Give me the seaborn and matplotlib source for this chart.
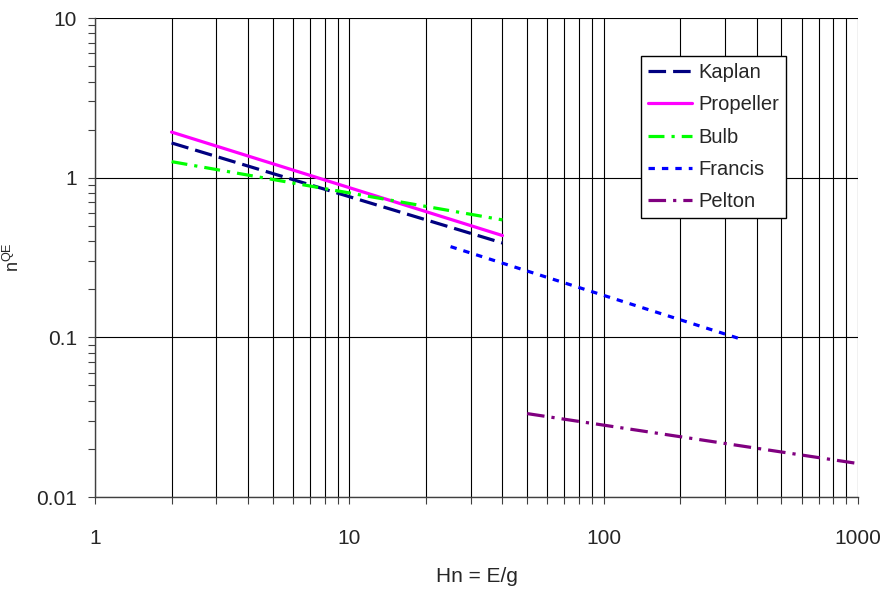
import numpy as np
import pandas as pd
import matplotlib
matplotlib.use("Agg")
import matplotlib.pyplot as plt
from matplotlib.ticker import LogLocator, FixedLocator, FixedFormatter, NullFormatter
import seaborn as sns

# ---- data (endpoints) ----
kaplan_x = [2, 40]
kaplan_y = [1.65, 0.39]
propeller_x = [2, 40]
propeller_y = [1.93, 0.434]
bulb_x = [2, 40]
bulb_y = [1.26, 0.544]
francis_x = [25, 350]
francis_y = [0.37, 0.097]
pelton_x = [50, 1000]
pelton_y = [0.0333, 0.0162]

x_ticks = [1, 10, 100, 1000]
x_tick_labels = ["1", "10", "100", "1000"]
y_ticks = [0.01, 0.1, 1, 10]
y_tick_labels = ["0.01", "0.1", "1", "10"]

sns.set_theme(style="white")
plt.rcParams['font.family'] = ['Liberation Sans', 'DejaVu Sans']
plt.rcParams['mathtext.fontset'] = 'custom'
plt.rcParams['mathtext.rm'] = 'Liberation Sans'

fig = plt.figure(figsize=(8.87, 5.90), dpi=100)
ax = fig.add_axes([95/887, 1 - 497/590, (858-95)/887, (497-18)/590])

series = [
    ("Kaplan", kaplan_x, kaplan_y, "#000080", (0, (5.5, 2.2))),
    ("Propeller", propeller_x, propeller_y, "#FF00FF", "-"),
    ("Bulb", bulb_x, bulb_y, "#00FF00", (0, (5.0, 2.2, 1.0, 2.2))),
    ("Francis", francis_x, francis_y, "#0000FF", (0, (2.0, 2.2))),
    ("Pelton", pelton_x, pelton_y, "#800080", (0, (5.5, 2.2, 1.0, 2.2))),
]

for name, xs, ys, col, ls in series:
    df = pd.DataFrame({"x": xs, "y": ys})
    sns.lineplot(data=df, x="x", y="y", ax=ax, color=col, linestyle=ls,
                 linewidth=2.3, label=name)

ax.set_xscale("log")
ax.set_yscale("log")
ax.set_xlim(1, 1000)
ax.set_ylim(0.01, 10)

ax.xaxis.set_major_locator(FixedLocator(x_ticks))
ax.xaxis.set_major_formatter(FixedFormatter(x_tick_labels))
ax.xaxis.set_minor_locator(LogLocator(base=10, subs=np.arange(2, 10)))
ax.xaxis.set_minor_formatter(NullFormatter())
ax.yaxis.set_major_locator(FixedLocator(y_ticks))
ax.yaxis.set_major_formatter(FixedFormatter(y_tick_labels))
ax.yaxis.set_minor_locator(LogLocator(base=10, subs=np.arange(2, 10)))
ax.yaxis.set_minor_formatter(NullFormatter())

ax.grid(True, which="major", axis="both", color="black", linewidth=0.8)
ax.grid(True, which="minor", axis="x", color="black", linewidth=0.8)
ax.set_axisbelow(True)

for side in ["top", "right"]:
    ax.spines[side].set_visible(False)
for side in ["left", "bottom"]:
    ax.spines[side].set_color("#404040")
    ax.spines[side].set_linewidth(1.0)

ax.tick_params(axis="x", which="both", direction="out", length=5, width=0.8,
               color="#404040", bottom=True, labelsize=15, pad=18)
ax.tick_params(axis="y", which="both", direction="out", length=5, width=0.8,
               color="#404040", left=True, labelsize=15, pad=8)

ax.set_xlabel("Hn = E/g", fontsize=15)
ax.xaxis.set_label_coords(0.5, (497-586)/479)
ax.xaxis.label.set_verticalalignment("bottom")
ax.set_ylabel(r"n$^{\mathregular{QE}}$", fontsize=13)
ax.yaxis.set_label_coords((23-95)/763, 0.5)

leg = ax.legend(loc="upper left", bbox_to_anchor=((641-95)/763, (497-56)/479),
                fontsize=14.5, frameon=True, fancybox=False, framealpha=1,
                edgecolor="black", handlelength=2.2, handletextpad=0.3,
                labelspacing=0.66, borderpad=0.35, borderaxespad=0)
leg.get_frame().set_linewidth(1.0)

fig.savefig("out.png", dpi=100)
